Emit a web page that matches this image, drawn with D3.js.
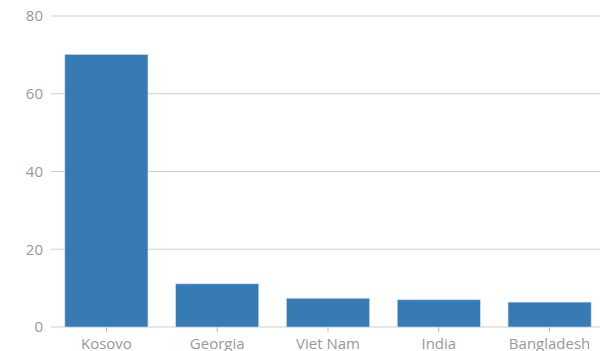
<!DOCTYPE html>
<html><head><meta charset="utf-8">
<script src="https://cdn.jsdelivr.net/npm/d3@7"></script>
<style>
body{margin:0;background:#fff;}
svg{display:block;font-family:"Open Sans",sans-serif;}
</style></head>
<body>
<svg id="chart" width="600" height="351"></svg>
<script>
const categories = ["Kosovo","Georgia","Viet Nam","India","Bangladesh"];
const values = [70.1, 11.1, 7.4, 7.0, 6.4];
const yTicks = [0,20,40,60,80];

const svg = d3.select("#chart");
const mLeft = 56, mRight = 600, mTop = 16, mBottom = 327;

const x = d3.scaleBand().domain(categories).range([mLeft, mRight])
  .paddingInner(0.25).paddingOuter(0.08);
const y = d3.scaleLinear().domain([0,80]).range([mBottom, mTop]);

// grid + y labels
const g = svg.append("g");
g.selectAll("line.grid").data(yTicks).join("line")
  .attr("x1", 51).attr("x2", 600)
  .attr("y1", d=>y(d)).attr("y2", d=>y(d))
  .attr("stroke", "#cfcfcf").attr("stroke-width", 1);
g.selectAll("text.yl").data(yTicks).join("text")
  .attr("x", 43).attr("y", d=>y(d)).attr("dy","0.35em")
  .attr("text-anchor","end").attr("fill","#999").attr("font-size",15)
  .text(d=>d);

// bars
svg.append("g").selectAll("rect").data(categories).join("rect")
  .attr("x", d=>x(d)).attr("width", x.bandwidth())
  .attr("y", (d,i)=>y(values[i])).attr("height",(d,i)=>y(0)-y(values[i]))
  .attr("fill","#2c74b0").attr("fill-opacity",0.95)
  .attr("stroke","#c9dbe9").attr("stroke-width",0.6);

// x axis ticks and labels
const xa = svg.append("g");
xa.selectAll("line").data(categories).join("line")
  .attr("x1", d=>x(d)+x.bandwidth()/2).attr("x2", d=>x(d)+x.bandwidth()/2)
  .attr("y1", mBottom).attr("y2", mBottom+5)
  .attr("stroke","#bbb");
xa.selectAll("text").data(categories).join("text")
  .attr("x", d=>x(d)+x.bandwidth()/2).attr("y", mBottom+22)
  .attr("text-anchor","middle").attr("fill","#999").attr("font-size",15)
  .text(d=>d);
</script>
</body></html>
